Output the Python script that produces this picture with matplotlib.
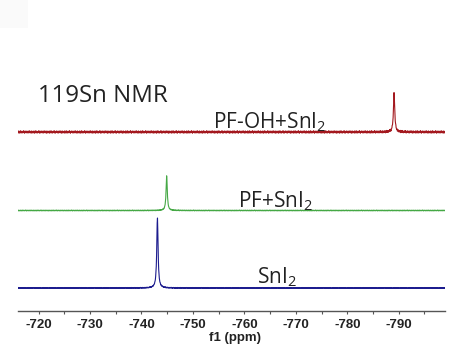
import numpy as np
import matplotlib
matplotlib.use("Agg")
import matplotlib.pyplot as plt
from matplotlib.ticker import MultipleLocator

# spectra: label, peak shift (ppm), peak height, baseline offset, noise level
labels = ["PF-OH+SnI$_\\mathregular{2}$", "PF+SnI$_\\mathregular{2}$", "SnI$_\\mathregular{2}$"]
shifts = [-789.1, -744.9, -743.1]
heights = [39, 34.5, 71]
offsets = [179, 100.5, 23]
noise_amp = [1.3, 0.45, 0.55]
colors = ["#a3181e", "#45a845", "#1c1c8e"]
fwhm = [0.30, 0.28, 0.30]

# baseline wiggle samples (unit amplitude), repeated along each trace
noise = [0.3, -0.6, 0.8, -0.2, -0.9, 0.5, 0.1, -0.4, 0.9, -0.7, 0.2, 0.6, -0.3,
         -0.8, 0.4, 0.0, -0.5, 0.7, -0.1, 0.9, -0.6, 0.3, -0.9, 0.5, 0.2, -0.3,
         0.8, -0.4, 0.1, -0.7, 0.6, -0.2, 0.4, -0.8, 0.7, 0.0, -0.5, 0.3, 0.9,
         -0.6, 0.1, -0.3, 0.5, -0.9, 0.2, 0.8, -0.1, -0.7, 0.4, -0.4]

xticks = [-720, -730, -740, -750, -760, -770, -780, -790]
xlim = (-716, -799)

plt.rcParams["mathtext.fontset"] = "custom"
plt.rcParams["mathtext.rm"] = "Open Sans"
plt.rcParams["axes.unicode_minus"] = False

W, H = 456, 351
fig = plt.figure(figsize=(W / 100, H / 100), dpi=100, facecolor="white")

# faint box at top-left corner of the original
fig.patches.append(plt.Rectangle((0, 1 - 28 / H), 28 / W, 28 / H, transform=fig.transFigure,
                                 facecolor="#fafafa", edgecolor="none"))

ax = fig.add_axes([18 / W, (H - 311) / H, (445 - 18) / W, 311 / H])
ax.patch.set_alpha(0)

ppm = np.linspace(xlim[0], xlim[1], 1400)
for k in range(3):
    g = fwhm[k] / 2
    peak = heights[k] * g**2 / ((ppm - shifts[k])**2 + g**2)
    wig = np.resize(np.roll(noise, 7 * k), ppm.size) * noise_amp[k]
    ax.plot(ppm, offsets[k] + peak + wig, color=colors[k], lw=0.8)

ax.set_xlim(*xlim)
ax.set_ylim(0, 311)
ax.set_xticks(xticks)
ax.xaxis.set_minor_locator(MultipleLocator(5))
ax.set_yticks([])
for s in ("top", "left", "right"):
    ax.spines[s].set_visible(False)
ax.spines["bottom"].set_color("#555555")
ax.spines["bottom"].set_linewidth(1.0)
ax.tick_params(axis="x", which="major", length=2.5, width=0.8, color="#555555",
               pad=3, labelsize=9.5)
ax.tick_params(axis="x", which="minor", length=2, width=0.8, color="#555555")
for t in ax.get_xticklabels():
    t.set_fontfamily("Liberation Sans")
    t.set_fontweight("bold")
    t.set_color("#222222")

fig.text(235 / W, 1 - 338.5 / H, "f1 (ppm)", fontfamily="Liberation Sans",
         fontweight="bold", fontsize=9.5, color="#222222", ha="center", va="center")

fig.text(38 / W, 1 - 102 / H, "119Sn NMR", fontfamily="Open Sans", fontsize=17.3,
         color="#222222", va="baseline")
label_pos = [(213, 128.5), (238, 207.5), (257, 283.5)]
for (x, y), lab in zip(label_pos, labels):
    fig.text(x / W, 1 - y / H, lab, fontfamily="Open Sans", fontsize=15,
             color="#222222", va="baseline")

fig.savefig("out.png", dpi=100, facecolor="white")
